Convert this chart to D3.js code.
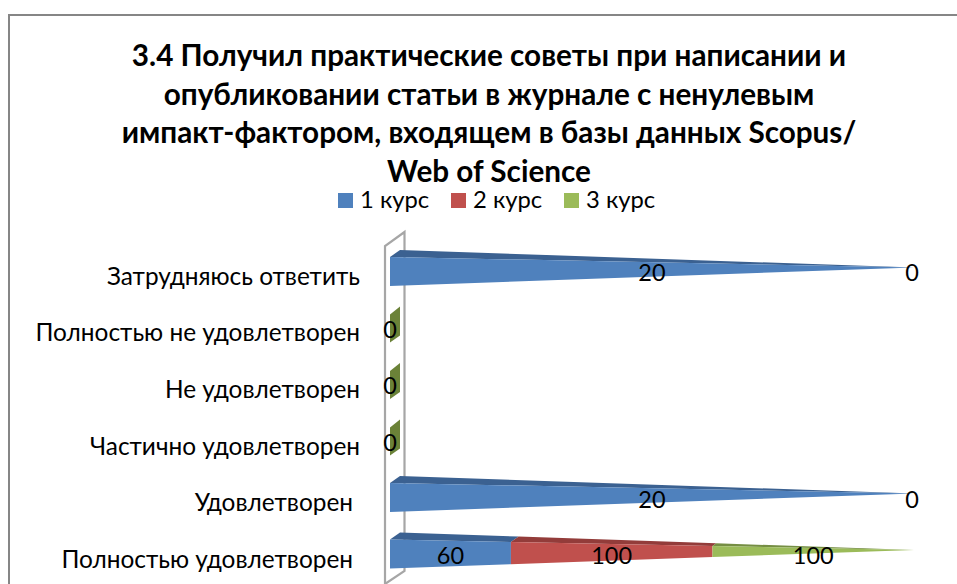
<!DOCTYPE html>
<html>
<head>
<meta charset="utf-8">
<script src="https://cdn.jsdelivr.net/npm/d3@7"></script>
<style>
  html, body { margin: 0; padding: 0; background: #fff; }
  svg { display: block; }
  text { font-family: Lato, "Noto Sans", sans-serif; fill: #000; }
</style>
</head>
<body>
<svg width="957" height="584"></svg>
<script>
var categories = ["Затрудняюсь ответить", "Полностью не удовлетворен", "Не удовлетворен",
                  "Частично удовлетворен", "Удовлетворен ", "Полностью удовлетворен "];
var seriesNames = ["1 курс", "2 курс", "3 курс"];
var course1 = [20, 0, 0, 0, 20, 60];
var course2 = [0, 0, 0, 0, 0, 100];
var course3 = [0, 0, 0, 0, 0, 100];
var titleLines = ["3.4 Получил практические советы при написании и",
                  "опубликовании статьи в журнале с ненулевым",
                  "импакт-фактором, входящем в базы данных Scopus/",
                  "Web of Science"];

var faceColors = ["#4f81bd", "#c0504d", "#9bbb59"];
var topColors = ["#3b6191", "#933c3a", "#758e43"];

var svg = d3.select("svg");

// Chart frame
svg.append("path")
    .attr("d", "M9,584V15H957")
    .attr("fill", "none")
    .attr("stroke", "#868686")
    .attr("stroke-width", 2);

// Title
svg.append("g").selectAll("text")
    .data(titleLines)
    .enter().append("text")
    .attr("x", 489)
    .attr("y", (d, i) => 66 + i * 38.5)
    .attr("text-anchor", "middle")
    .attr("font-size", 29.7)
    .attr("font-weight", 700)
    .text(d => d);

// Legend
var legendX = d3.scalePoint().domain(seriesNames).range([338, 564]);
var legend = svg.append("g").selectAll("g")
    .data(seriesNames)
    .enter().append("g")
    .attr("transform", d => `translate(${legendX(d)},193)`);
legend.append("rect")
    .attr("width", 15)
    .attr("height", 15)
    .attr("fill", (d, i) => faceColors[i]);
legend.append("text")
    .attr("x", 22)
    .attr("y", 15)
    .attr("font-size", 23.8)
    .text(d => d);

// Scales
var x = d3.scaleLinear().domain([0, 1]).range([390, 914]);
var y = d3.scaleBand().domain(categories).range([257, 568.5]).paddingInner(0.487);
var bandMid = d => y(d) + y.bandwidth() / 2;
var depthX = 10, depthY = 7, tipLift = 4;

// Back wall of the 3D box
svg.append("path")
    .attr("d", "M385,584V246L404.5,232V571L385,584")
    .attr("fill", "none")
    .attr("stroke", "#a6a6a6")
    .attr("stroke-width", 2.2);

// 100% stacked rows
var rows = categories.map((c, i) => ({
    cat: c, "1 курс": course1[i], "2 курс": course2[i], "3 курс": course3[i]
}));
var stacked = d3.stack().keys(seriesNames).offset(d3.stackOffsetExpand)(rows);

// half height of the tapered bar at a given share of its length
var halfAt = t => (y.bandwidth() / 2) * (1 - t);
var liftAt = t => tipLift * t;

var bars = svg.append("g");

// Empty rows only show the base of the pyramid
categories.forEach((c, i) => {
    if (course1[i] + course2[i] + course3[i] > 0) return;
    var m = bandMid(c), h = y.bandwidth() / 2;
    bars.append("path")
        .attr("d", `M${x(0)},${m - h + 1}L${x(0) + depthX},${m - h - depthY}V${m + h - depthY}L${x(0)},${m + h}Z`)
        .attr("fill", "#6b8238");
});

stacked.forEach((layer, s) => {
    layer.forEach(d => {
        var c = d.data.cat;
        var t0 = d[0], t1 = d[1];
        if (!(t1 > t0)) return;
        var m = bandMid(c);
        var x0 = x(t0), x1 = x(t1);
        var top0 = m - liftAt(t0) - halfAt(t0), top1 = m - liftAt(t1) - halfAt(t1);
        var bot0 = m - liftAt(t0) + halfAt(t0), bot1 = m - liftAt(t1) + halfAt(t1);
        var back = 1 - t0, back1 = 1 - t1;
        // top side
        bars.append("path")
            .attr("d", `M${x0},${top0}L${x0 + depthX * back},${top0 - depthY * back}L${x1 + depthX * back1},${top1 - depthY * back1}L${x1},${top1}Z`)
            .attr("fill", topColors[s]);
        // front side
        bars.append("path")
            .attr("d", `M${x0},${top0}L${x1},${top1}L${x1},${bot1}L${x0},${bot0}Z`)
            .attr("fill", faceColors[s]);
    });
});

// Category labels, the ones with a trailing space end a little earlier
svg.append("g").selectAll("text")
    .data(categories)
    .enter().append("text")
    .attr("x", d => d.endsWith(" ") ? 353 : 360)
    .attr("y", d => bandMid(d) + 13.5)
    .attr("text-anchor", "end")
    .attr("font-size", 24.4)
    .text(d => d.trim());

// Value labels, in the middle of each segment
var valueLabels = [];
stacked.forEach(layer => {
    layer.forEach((d, i) => {
        var v = d[1] - d[0];
        var total = course1[i] + course2[i] + course3[i];
        if (total === 0) {
            if (layer.key === "1 курс") valueLabels.push({ cat: d.data.cat, t: 0, value: 0 });
        } else if (v > 0) {
            valueLabels.push({ cat: d.data.cat, t: (d[0] + d[1]) / 2, value: d.data[layer.key] });
        } else if (layer.key === "3 курс") {
            valueLabels.push({ cat: d.data.cat, t: 1, value: 0 });
        }
    });
});
svg.append("g").selectAll("text")
    .data(valueLabels)
    .enter().append("text")
    .attr("x", d => x(d.t) - (d.t === 1 ? 2 : 0))
    .attr("y", d => bandMid(d.cat) + 10)
    .attr("text-anchor", "middle")
    .attr("font-size", 23.5)
    .text(d => d.value);
</script>
</body>
</html>
